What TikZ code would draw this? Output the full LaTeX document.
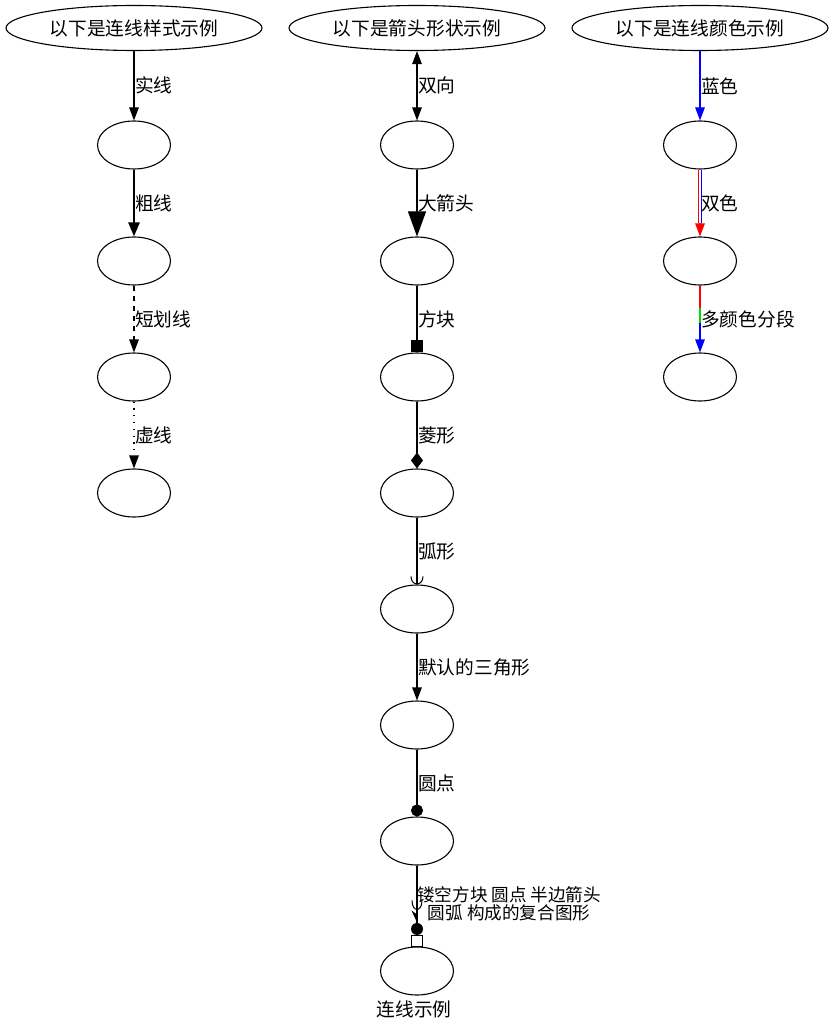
\documentclass[tikz,border=0pt]{standalone}
\usepackage{fontspec}
\newfontfamily\cjk{Noto Sans CJK SC}
\usetikzlibrary{shapes.geometric,arrows.meta,calc}
\tikzset{
  base/.style={font=\cjk\fontsize{18.7}{22}\selectfont},
  topnode/.style={base,draw,ellipse,line width=1.1pt,minimum width=256pt,minimum height=45pt,inner sep=0pt},
  gnode/.style={draw,ellipse,line width=1.1pt,minimum width=73pt,minimum height=48pt,inner sep=0pt},
  lbl/.style={base,anchor=west,inner sep=0pt},
  edge/.style={line width=1.1pt},
  tri/.tip={Triangle[length=13pt,width=9.5pt]},
}
\begin{document}
\begin{tikzpicture}[x=1pt,y=-1pt]
\useasboundingbox (0,0) rectangle (834,1032);
% column 1
\node[topnode] (a0) at (134,28) {以下是连线样式示例};
\node[gnode] (a1) at (134,145) {};
\node[gnode] (a2) at (134,261) {};
\node[gnode] (a3) at (134,377) {};
\node[gnode] (a4) at (134,493) {};
\draw[edge,-tri] (a0) -- (a1);
\draw[line width=2.4pt,-{Triangle[length=14pt,width=11pt]}] (a1) -- (a2);
\draw[edge,dash pattern=on 5pt off 5pt,-tri] (a2) -- (a3);
\draw[edge,dash pattern=on 1.3pt off 5.5pt,-tri] (a3) -- (a4);
\node[lbl] (la1) at ($(a0.south)!0.5!(a1.north)+(1,0)$) {实线};
\node[lbl] (la2) at ($(a1.south)!0.5!(a2.north)+(1,0)$) {粗线};
\node[lbl] (la3) at ($(a2.south)!0.5!(a3.north)+(1,0)$) {短划线};
\node[lbl] (la4) at ($(a3.south)!0.5!(a4.north)+(1,0)$) {虚线};
% column 2
\node[topnode] (b0) at (417,28) {以下是箭头形状示例};
\node[gnode] (b1) at (417,145) {};
\node[gnode] (b2) at (417,261) {};
\node[gnode] (b3) at (417,377) {};
\node[gnode] (b4) at (417,493) {};
\node[gnode] (b5) at (417,609) {};
\node[gnode] (b6) at (417,725) {};
\node[gnode] (b7) at (417,841) {};
\node[gnode] (b8) at (417,971) {};
\draw[edge,tri-tri] (b0) -- (b1);
\draw[edge,-{Triangle[length=25pt,width=18pt]}] (b1) -- (b2);
\draw[edge,-{Square[length=12pt,width=12pt]}] (b2) -- (b3);
\draw[edge,-{Turned Square[length=16pt,width=12pt]}] (b3) -- (b4);
\draw[edge] (b4) -- (b5);
\draw[line width=1pt] ([xshift=-6pt,yshift=8pt]b5.north) .. controls +(0,-10pt) and +(0,-10pt) .. ([xshift=6pt,yshift=8pt]b5.north);
\draw[edge,-tri] (b5) -- (b6);
\draw[edge,-{Circle[length=12pt]}] (b6) -- (b7);
% composite
\draw[edge] (b7) -- ([yshift=12pt]b8.north);
\draw[line width=1pt,fill=white] ([xshift=-5.5pt]b8.north) rectangle ([xshift=5.5pt,yshift=11pt]b8.north);
\fill ([yshift=17.5pt]b8.north) circle (6pt);
\fill ([yshift=24pt]b8.north) -- ([xshift=-5.5pt,yshift=36pt]b8.north) -- ([xshift=0pt,yshift=32pt]b8.north) -- cycle;
\draw[line width=1pt] ([xshift=-5pt,yshift=46pt]b8.north) .. controls +(0,-12pt) and +(0,-12pt) .. ([xshift=5pt,yshift=46pt]b8.north);
\node[lbl] (lb1) at ($(b0.south)!0.5!(b1.north)+(1,0)$) {双向};
\node[lbl] (lb2) at ($(b1.south)!0.5!(b2.north)+(1,0)$) {大箭头};
\node[lbl] (lb3) at ($(b2.south)!0.5!(b3.north)+(1,0)$) {方块};
\node[lbl] (lb4) at ($(b3.south)!0.5!(b4.north)+(1,0)$) {菱形};
\node[lbl] (lb5) at ($(b4.south)!0.5!(b5.north)+(1,0)$) {弧形};
\node[lbl] (lb6) at ($(b5.south)!0.5!(b6.north)+(1,0)$) {默认的三角形};
\node[lbl] (lb7) at ($(b6.south)!0.5!(b7.north)+(1,0)$) {圆点};
\node[base,anchor=west,inner sep=0pt,align=center,font=\cjk\fontsize{17.6}{18}\selectfont] (lb8) at (417,904) {镂空方块 圆点 半边箭头\\圆弧 构成的复合图形};
\node[base,inner sep=0pt] (glabel) at (414,1009) {连线示例};
% column 3
\node[topnode] (c0) at (700,28) {以下是连线颜色示例};
\node[gnode] (c1) at (700,145) {};
\node[gnode] (c2) at (700,261) {};
\node[gnode] (c3) at (700,377) {};
\draw[edge,blue,-tri] (c0) -- (c1);
\draw[line width=1.1pt,blue] ([xshift=1.1pt]c1.south) -- ([xshift=1.1pt,yshift=13pt]c2.north);
\draw[line width=1.1pt,red] ([xshift=-1.1pt]c1.south) -- ([xshift=-1.1pt,yshift=13pt]c2.north);
\draw[edge,red,-tri] ([yshift=13.5pt]c2.north) -- (c2);
\coordinate (m1) at ($(c2.south)!0.34!(c3.north)$);
\coordinate (m2) at ($(c2.south)!0.56!(c3.north)$);
\draw[edge,red] (c2) -- (m1);
\draw[edge,green!85!black] (m1) -- (m2);
\draw[edge,blue,-tri] (m2) -- (c3);
\node[lbl] (lc1) at ($(c0.south)!0.5!(c1.north)+(1,0)$) {蓝色};
\node[lbl] (lc2) at ($(c1.south)!0.5!(c2.north)+(1,0)$) {双色};
\node[lbl] (lc3) at ($(c2.south)!0.5!(c3.north)+(1,0)$) {多颜色分段};
\end{tikzpicture}
\end{document}
